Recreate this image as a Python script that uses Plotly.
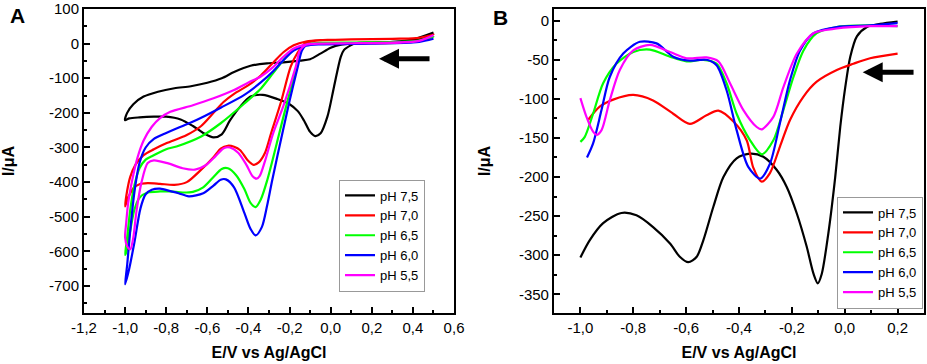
import plotly.graph_objects as go

# ---------------- data ----------------
labels = ["pH 7,5", "pH 7,0", "pH 6,5", "pH 6,0", "pH 5,5"]
colors = ["#000000", "#ff0000", "#00ff00", "#0000ff", "#ff00ff"]

# Panel A : cyclic voltammograms (scan 0.5 V -> -1.0 V -> 0.5 V)
a75_E = [0.50, 0.40, 0.30, 0.20, 0.12, 0.097, 0.065, 0.049, 0.016, -0.016, -0.049, -0.075, -0.10, -0.13, -0.16, -0.20, -0.26, -0.33, -0.39, -0.44, -0.49, -0.53, -0.57, -0.62, -0.67, -0.73, -0.80, -0.86, -0.93, -0.98, -1.0,
         -0.99, -0.96, -0.91, -0.84, -0.76, -0.68, -0.60, -0.53, -0.47, -0.39, -0.31, -0.23, -0.15, -0.10, -0.05, 0.0, 0.05, 0.10, 0.18, 0.34, 0.42, 0.50]
a75_I = [32, 12, 5, 3, 1, -5, -18, -38, -125, -211, -259, -267, -255, -222, -195, -175, -160, -148, -153, -182, -222, -262, -271, -258, -238, -219, -211, -211, -213, -216, -221,
         -200, -175, -153, -139, -129, -123, -113, -100, -82, -64, -57, -54, -49, -45, -29, -12, -3, 0, 1, 3, 10, 30]

a70_E = [0.50, 0.42, 0.30, 0.10, 0.0, -0.08, -0.13, -0.16, -0.195, -0.24, -0.29, -0.32, -0.35, -0.375, -0.405, -0.44, -0.47, -0.50, -0.535, -0.57, -0.63, -0.70, -0.76, -0.83, -0.89, -0.93, -0.96, -0.985, -1.0,
         -0.99, -0.975, -0.95, -0.91, -0.86, -0.80, -0.70, -0.63, -0.57, -0.52, -0.47, -0.40, -0.34, -0.28, -0.23, -0.18, -0.12, -0.05, 0.10, 0.34, 0.43, 0.50]
a70_I = [26, 16, 14, 12, 11, 8, -2, -25, -67, -165, -259, -316, -343, -350, -336, -308, -298, -295, -303, -328, -364, -400, -408, -405, -403, -406, -418, -445, -470,
         -425, -385, -350, -322, -305, -288, -264, -238, -200, -168, -145, -120, -92, -55, -25, -5, 6, 10, 12, 14, 17, 26]

a65_E = [0.50, 0.43, 0.30, 0.10, -0.05, -0.12, -0.145, -0.165, -0.21, -0.25, -0.308, -0.34, -0.365, -0.39, -0.42, -0.46, -0.50, -0.53, -0.57, -0.62, -0.67, -0.72, -0.78, -0.83, -0.89, -0.93, -0.955, -0.975, -0.993, -1.0,
         -0.99, -0.975, -0.955, -0.93, -0.90, -0.87, -0.80, -0.75, -0.63, -0.535, -0.42, -0.34, -0.28, -0.23, -0.18, -0.12, -0.05, 0.10, 0.34, 0.43, 0.50]
a65_I = [19, 8, 4, 3, 2, -3, -20, -67, -165, -259, -393, -450, -472, -460, -420, -380, -360, -362, -385, -415, -428, -430, -427, -427, -430, -445, -480, -540, -600, -610,
         -560, -480, -410, -360, -335, -325, -305, -297, -268, -230, -173, -130, -85, -48, -18, -4, 1, 3, 5, 9, 19]

a60_E = [0.50, 0.43, 0.30, 0.10, -0.05, -0.12, -0.14, -0.16, -0.20, -0.235, -0.284, -0.31, -0.335, -0.365, -0.39, -0.42, -0.47, -0.51, -0.535, -0.57, -0.62, -0.69, -0.74, -0.78, -0.83, -0.87, -0.90, -0.925, -0.955, -0.98, -1.0,
         -0.99, -0.975, -0.955, -0.93, -0.90, -0.86, -0.80, -0.75, -0.68, -0.63, -0.535, -0.42, -0.34, -0.28, -0.23, -0.18, -0.12, -0.05, 0.10, 0.34, 0.43, 0.50]
a60_I = [14, 5, 1, -1, -2, -5, -20, -67, -165, -259, -393, -470, -530, -554, -535, -489, -415, -392, -393, -410, -432, -441, -432, -426, -419, -422, -435, -475, -575, -650, -695,
         -640, -540, -430, -345, -300, -275, -258, -245, -228, -214, -185, -148, -112, -80, -48, -20, -6, -2, 0, 2, 5, 14]

a55_E = [0.50, 0.43, 0.30, 0.10, -0.05, -0.12, -0.15, -0.17, -0.23, -0.28, -0.32, -0.345, -0.36, -0.38, -0.41, -0.45, -0.49, -0.52, -0.56, -0.61, -0.66, -0.72, -0.79, -0.86, -0.89, -0.92, -0.945, -0.96, -0.975, -0.99, -1.0,
         -0.995, -0.985, -0.965, -0.94, -0.91, -0.87, -0.83, -0.78, -0.67, -0.57, -0.47, -0.40, -0.34, -0.28, -0.23, -0.18, -0.12, -0.05, 0.10, 0.34, 0.43, 0.50]
a55_I = [24, 8, 3, 1, 0, -3, -20, -67, -180, -259, -340, -382, -390, -383, -350, -315, -300, -302, -325, -352, -364, -360, -346, -337, -345, -400, -485, -560, -594, -585, -560,
         -520, -460, -393, -330, -280, -240, -215, -197, -178, -158, -134, -112, -95, -68, -38, -14, -3, 0, 1, 3, 8, 24]

# Panel B : voltammograms
b75_E = [-1.0, -0.965, -0.914, -0.845, -0.788, -0.725, -0.661, -0.624, -0.592, -0.56, -0.535, -0.497, -0.459, -0.409, -0.358, -0.308, -0.257, -0.219, -0.181, -0.144, -0.118, -0.102, -0.087, -0.062, -0.036, -0.017, 0.002, 0.021, 0.046, 0.084, 0.134, 0.2]
b75_I = [-303, -281, -259, -246, -249, -264, -285, -302, -309, -302, -281, -238, -200, -176, -170, -174, -191, -213, -247, -289, -324, -336, -324, -272, -200, -136, -85, -46, -20, -8, -4, -1]

b70_E = [-0.971, -0.927, -0.876, -0.80, -0.725, -0.649, -0.586, -0.523, -0.478, -0.421, -0.371, -0.346, -0.314, -0.283, -0.245, -0.207, -0.156, -0.106, -0.03, 0.033, 0.096, 0.2]
b70_I = [-127, -110, -101, -95, -102, -119, -132, -121, -115, -129, -153, -188, -206, -195, -161, -127, -97, -78, -63, -55, -48, -42]

b65_E = [-1.0, -0.984, -0.952, -0.914, -0.864, -0.80, -0.737, -0.661, -0.598, -0.535, -0.485, -0.447, -0.409, -0.358, -0.314, -0.27, -0.232, -0.194, -0.156, -0.106, -0.03, 0.096, 0.2]
b65_I = [-155, -149, -119, -80, -55, -40, -37, -46, -52, -50, -55, -80, -119, -153, -171, -153, -114, -72, -38, -16, -8, -6, -7]

b60_E = [-0.975, -0.952, -0.92, -0.889, -0.838, -0.775, -0.712, -0.649, -0.586, -0.523, -0.485, -0.447, -0.409, -0.365, -0.32, -0.283, -0.245, -0.207, -0.169, -0.118, -0.03, 0.096, 0.2]
b60_I = [-175, -157, -114, -72, -42, -27, -29, -46, -51, -50, -57, -89, -140, -187, -202, -183, -131, -76, -38, -16, -8, -6, -3]

b55_E = [-1.0, -0.977, -0.952, -0.939, -0.92, -0.889, -0.851, -0.80, -0.737, -0.661, -0.598, -0.523, -0.478, -0.434, -0.384, -0.333, -0.314, -0.27, -0.232, -0.181, -0.118, -0.03, 0.096, 0.2]
b55_I = [-99, -123, -142, -146, -140, -102, -63, -38, -31, -40, -48, -47, -52, -80, -114, -136, -139, -123, -85, -42, -16, -10, -7, -7]

A_series = [(a75_E, a75_I), (a70_E, a70_I), (a65_E, a65_I), (a60_E, a60_I), (a55_E, a55_I)]
B_series = [(b75_E, b75_I), (b70_E, b70_I), (b65_E, b65_I), (b60_E, b60_I), (b55_E, b55_I)]

A_xticks = [-1.2, -1.0, -0.8, -0.6, -0.4, -0.2, 0.0, 0.2, 0.4, 0.6]
A_xtext = ["-1,2", "-1,0", "-0,8", "-0,6", "-0,4", "-0,2", "0,0", "0,2", "0,4", "0,6"]
A_yticks = [100, 0, -100, -200, -300, -400, -500, -600, -700]
A_ytext = ["100", "0", "-100", "-200", "-300", "-400", "-500", "-600", "-700"]
B_xticks = [-1.0, -0.8, -0.6, -0.4, -0.2, 0.0, 0.2]
B_xtext = ["-1,0", "-0,8", "-0,6", "-0,4", "-0,2", "0,0", "0,2"]
B_yticks = [0, -50, -100, -150, -200, -250, -300, -350]
B_ytext = ["0", "-50", "-100", "-150", "-200", "-250", "-300", "-350"]

# ---------------- figure ----------------
FONT = "Liberation Sans, Arial, sans-serif"
fig = go.Figure()

for (E, I), name, col in zip(A_series, labels, colors):
    fig.add_trace(go.Scatter(x=E, y=I, mode="lines", name=name, legend="legend",
                             line=dict(color=col, width=2.2, shape="spline", smoothing=0.8),
                             xaxis="x", yaxis="y"))
for (E, I), name, col in zip(B_series, labels, colors):
    fig.add_trace(go.Scatter(x=E, y=I, mode="lines", name=name, legend="legend2",
                             line=dict(color=col, width=2.2, shape="spline", smoothing=0.8),
                             xaxis="x2", yaxis="y2"))

axis_common = dict(showgrid=False, zeroline=False, showline=True, linecolor="black", linewidth=2,
                   mirror=True, ticks="inside", ticklen=6, tickwidth=2, tickcolor="black",
                   automargin=False,
                   tickfont=dict(family=FONT, size=15, color="black"),
                   minor=dict(ticks="inside", ticklen=3, tickwidth=1.5, tickcolor="black"))
title_font = dict(family=FONT, size=16, color="black")

fig.update_layout(
    template="none",
    width=927, height=364, margin=dict(l=0, r=0, t=0, b=0, pad=0),
    paper_bgcolor="white", plot_bgcolor="white",
    font=dict(family=FONT, color="black"),
    xaxis=dict(domain=[0.0906, 0.4898], range=[-1.2, 0.6], anchor="y",
               tickvals=A_xticks, ticktext=A_xtext,
               title=dict(text="<b>E/V vs Ag/AgCl</b>", font=title_font, standoff=12),
               **axis_common),
    yaxis=dict(domain=[0.1401, 0.9753], range=[-778, 100], anchor="x",
               tickvals=A_yticks, ticktext=A_ytext,
               title=dict(text="<b>I/μA</b>", font=title_font, standoff=30),
               **axis_common),
    xaxis2=dict(domain=[0.5976, 0.9968], range=[-1.1, 0.3], anchor="y2",
                tickvals=B_xticks, ticktext=B_xtext,
                title=dict(text="<b>E/V vs Ag/AgCl</b>", font=title_font, standoff=12),
                **axis_common),
    yaxis2=dict(domain=[0.1401, 0.9753], range=[-374, 15], anchor="x2",
                tickvals=B_yticks, ticktext=B_ytext,
                title=dict(text="<b>I/μA</b>", font=title_font, standoff=24),
                **axis_common),
    legend=dict(x=382 / 927, y=1 - 235.5 / 364, xanchor="center", yanchor="middle",
                bgcolor="white", bordercolor="#999999", borderwidth=1,
                font=dict(family=FONT, size=13, color="black"), tracegroupgap=0),
    legend2=dict(x=923 / 927, y=1 - 252.5 / 364, xanchor="right", yanchor="middle",
                 bgcolor="white", bordercolor="#999999", borderwidth=1,
                 font=dict(family=FONT, size=13, color="black"), tracegroupgap=0),
    showlegend=True,
)

# minor tick spacing
fig.update_xaxes(minor_dtick=0.1)
fig.update_yaxes(minor_dtick=50, selector=dict(anchor="x"))
fig.update_yaxes(minor_dtick=25, selector=dict(anchor="x2"))

# panel letters
fig.add_annotation(text="<b>A</b>", x=17 / 927, y=1 - 16 / 364, xref="paper", yref="paper",
                   xanchor="center", yanchor="middle",
                   showarrow=False, font=dict(family=FONT, size=21, color="black"))
fig.add_annotation(text="<b>B</b>", x=500 / 927, y=1 - 17 / 364, xref="paper", yref="paper",
                   xanchor="center", yanchor="middle",
                   showarrow=False, font=dict(family=FONT, size=21, color="black"))

# scan direction arrows
fig.add_annotation(x=0.235, y=-44, ax=0.488, ay=-44, xref="x", yref="y", axref="x", ayref="y",
                   text="", showarrow=True, arrowhead=2, arrowsize=0.8, arrowwidth=5, arrowcolor="black")
fig.add_annotation(x=0.068, y=-66, ax=0.266, ay=-66, xref="x2", yref="y2", axref="x2", ayref="y2",
                   text="", showarrow=True, arrowhead=2, arrowsize=0.8, arrowwidth=5, arrowcolor="black")

fig.write_html("out.html", config={"displayModeBar": False},
               post_script="document.body.style.margin='0';")
